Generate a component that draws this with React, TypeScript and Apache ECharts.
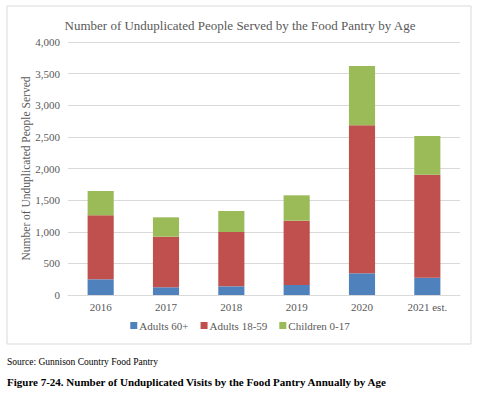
import React, { useEffect, useRef } from "react";
import * as echarts from "echarts";

const categories = ["2016", "2017", "2018", "2019", "2020", "2021 est."];
const adults60 = [248, 122, 137, 158, 343, 274];
const adults18 = [1012, 800, 859, 1017, 2340, 1628];
const children = [384, 306, 332, 401, 937, 612];
const seriesNames = ["Adults 60+", "Adults 18-59", "Children 0-17"];
const colors = ["#4F81BD", "#C0504D", "#9BBB59"];

const FONT = "Liberation Serif";

export default function App() {
  const ref = useRef<HTMLDivElement>(null);
  useEffect(() => {
    if (!ref.current) return;
    const chart = echarts.init(ref.current, undefined, { renderer: "svg" });
    const data = [adults60, adults18, children];
    chart.setOption({
      animation: false,
      backgroundColor: "#ffffff",
      textStyle: { fontFamily: FONT },
      title: {
        text: "Number of Unduplicated People Served by the Food Pantry by Age",
        left: "center",
        top: 14,
        textStyle: { fontFamily: FONT, fontSize: 13, fontWeight: "normal", color: "#595959" },
      },
      grid: { left: 68, right: 20, top: 42, bottom: 99 },
      legend: {
        bottom: 58,
        left: "center",
        itemWidth: 7,
        itemHeight: 7,
        itemGap: 12,
        icon: "rect",
        textStyle: { fontFamily: FONT, fontSize: 11, color: "#595959", padding: [0, 0, 0, -3] },
        data: seriesNames,
      },
      xAxis: {
        type: "category",
        data: categories,
        axisLine: { lineStyle: { color: "#d9d9d9" } },
        axisTick: { show: false },
        axisLabel: { fontFamily: FONT, fontSize: 11, color: "#595959", margin: 6 },
      },
      yAxis: {
        type: "value",
        min: 0,
        max: 4000,
        interval: 500,
        name: "Number of Unduplicated People Served",
        nameLocation: "middle",
        nameGap: 36,
        nameMoveOverlap: false,
        nameTextStyle: { fontFamily: FONT, fontSize: 11.5, color: "#595959" },
        axisLabel: {
          fontFamily: FONT,
          fontSize: 11,
          color: "#595959",
          margin: 8,
          formatter: (v: number) => v.toLocaleString("en-US"),
        },
        splitLine: { lineStyle: { color: "#d9d9d9" } },
      },
      series: seriesNames.map((n, i) => ({
        name: n,
        type: "bar",
        stack: "total",
        data: data[i],
        barWidth: "40%",
        itemStyle: { color: colors[i] },
      })),
      graphic: [
        {
          type: "rect",
          shape: { x: 7, y: 6, width: 464, height: 338 },
          style: { fill: "none", stroke: "#d9d9d9", lineWidth: 1 },
          silent: true,
        },
        {
          type: "text",
          left: 7,
          top: 357,
          style: {
            text: "Source: Gunnison Country Food Pantry",
            fontFamily: FONT,
            fontSize: 9.5,
            fill: "#000",
          },
        },
        {
          type: "text",
          left: 7,
          top: 376,
          style: {
            text: "Figure 7-24. Number of Unduplicated Visits by the Food Pantry Annually by Age",
            fontFamily: FONT,
            fontSize: 11,
            fontWeight: "bold",
            fill: "#000",
          },
        },
      ],
    });
    return () => chart.dispose();
  }, []);
  return <div ref={ref} style={{ position: "fixed", left: 0, top: 0, width: 480, height: 394 }} />;
}
